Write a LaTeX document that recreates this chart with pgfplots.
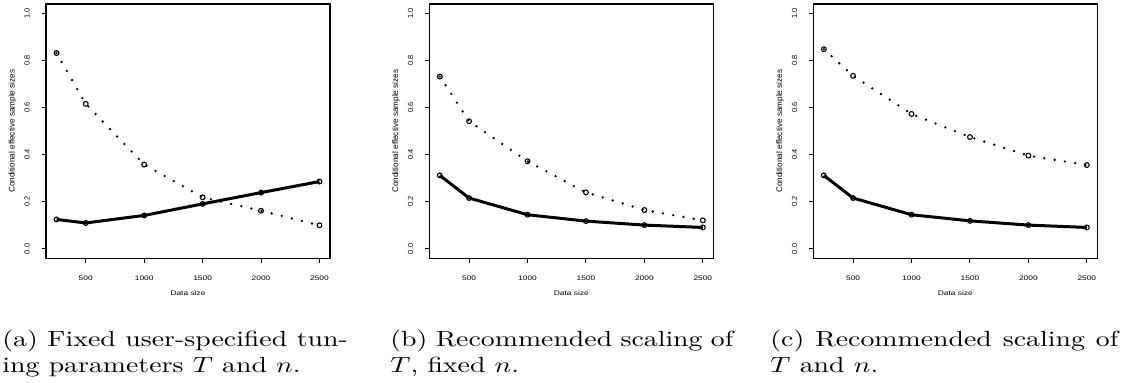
\documentclass[border=0pt]{standalone}
\usepackage{pgfplots}
\pgfplotsset{compat=1.18}
\usepackage{pgfplotstable}
\usepackage{graphicx}
\usepackage{fontspec}
\newfontfamily\rfont{Liberation Sans}

% horizontal stretch used for the printed text
\newcommand{\hs}[1]{\scalebox{1.27}[1]{#1}}
\newcommand{\capline}[2]{\scalebox{1.27}[1]{\makebox[#1][s]{#2}}}

% conditional effective sample sizes against data size
% a: fixed T and n; b: scaled T, fixed n; c: scaled T and n
\pgfplotstableread{
n    asolid adot  bsolid bdot  csolid cdot
250  0.125  0.832 0.312  0.732 0.312  0.848
500  0.110  0.616 0.216  0.542 0.216  0.735
1000 0.142  0.358 0.145  0.372 0.145  0.573
1500 0.191  0.219 0.118  0.240 0.119  0.475
2000 0.239  0.162 0.101  0.165 0.101  0.396
2500 0.286  0.100 0.091  0.121 0.091  0.356
}\ess

\pgfplotsset{
  rpanel/.style={
    scale only axis, width=142pt, height=127.15pt, anchor=south west,
    xmin=160, xmax=2590, ymin=-0.04, ymax=1.04,
    axis line style={line width=0.6pt},
    tick align=outside, major tick length=2.2pt,
    tick style={line width=0.5pt, black},
    xtick={500,1000,1500,2000,2500},
    xticklabels={\hs{500},\hs{1000},\hs{1500},\hs{2000},\hs{2500}},
    ytick={0,0.2,0.4,0.6,0.8,1},
    yticklabels={0.0,0.2,0.4,0.6,0.8,1.0},
    xtick pos=lower, ytick pos=left,
    xticklabel style={font=\rfont\fontsize{3.3}{4}\selectfont, anchor=center},
    yticklabel style={font=\rfont\fontsize{3.7}{4.4}\selectfont, rotate=90, anchor=center},
    xticklabel shift=8pt, yticklabel shift=7.2pt,
    xlabel={\hs{Data size}},
    ylabel={Conditional effective sample sizes},
    every axis x label/.style={at={(axis description cs:0.5,0)}, anchor=center,
      yshift=-17.5pt, font=\rfont\fontsize{3.3}{4}\selectfont},
    every axis y label/.style={at={(axis description cs:-0.1176,0.5)}, rotate=90,
      anchor=center, font=\rfont\fontsize{4.1}{4.9}\selectfont},
  },
  solidline/.style={black, line width=1.5pt, mark=o, mark size=1.2pt,
    mark options={line width=0.55pt, solid}},
  dotline/.style={black, line width=1.3pt, line cap=round,
    dash pattern=on 0pt off 5.2pt, mark=o, mark size=1.2pt,
    mark options={line width=0.55pt, solid}},
}

\begin{document}
\begin{tikzpicture}
\useasboundingbox (0pt,0pt) rectangle (568pt,-191.5pt);

\begin{axis}[rpanel, at={(23pt,-129.15pt)}]
  \addplot[solidline] table[x=n, y=asolid] {\ess};
  \addplot[dotline] table[x=n, y=adot] {\ess};
\end{axis}

\begin{axis}[rpanel, at={(214.67pt,-129.15pt)}]
  \addplot[solidline] table[x=n, y=bsolid] {\ess};
  \addplot[dotline] table[x=n, y=bdot] {\ess};
\end{axis}

\begin{axis}[rpanel, at={(406.67pt,-129.15pt)}]
  \addplot[solidline] table[x=n, y=csolid] {\ess};
  \addplot[dotline] table[x=n, y=cdot] {\ess};
\end{axis}

\begin{scope}[every node/.style={anchor=base west, inner sep=0pt,
    font=\fontsize{10.95}{13.6}\selectfont}]
  \node at (1pt,-173.5pt) {\capline{136pt}{(a) Fixed user-specified tun-}};
  \node at (1pt,-186.5pt) {\hs{ing parameters $T$ and $n$.}};
  \node at (195pt,-173.5pt) {\capline{135pt}{(b) Recommended scaling of}};
  \node at (195pt,-186.5pt) {\hs{$T$, fixed $n$.}};
  \node at (385pt,-173.5pt) {\capline{137pt}{(c) Recommended scaling of}};
  \node at (385pt,-186.5pt) {\hs{$T$ and $n$.}};
\end{scope}
\end{tikzpicture}
\end{document}
